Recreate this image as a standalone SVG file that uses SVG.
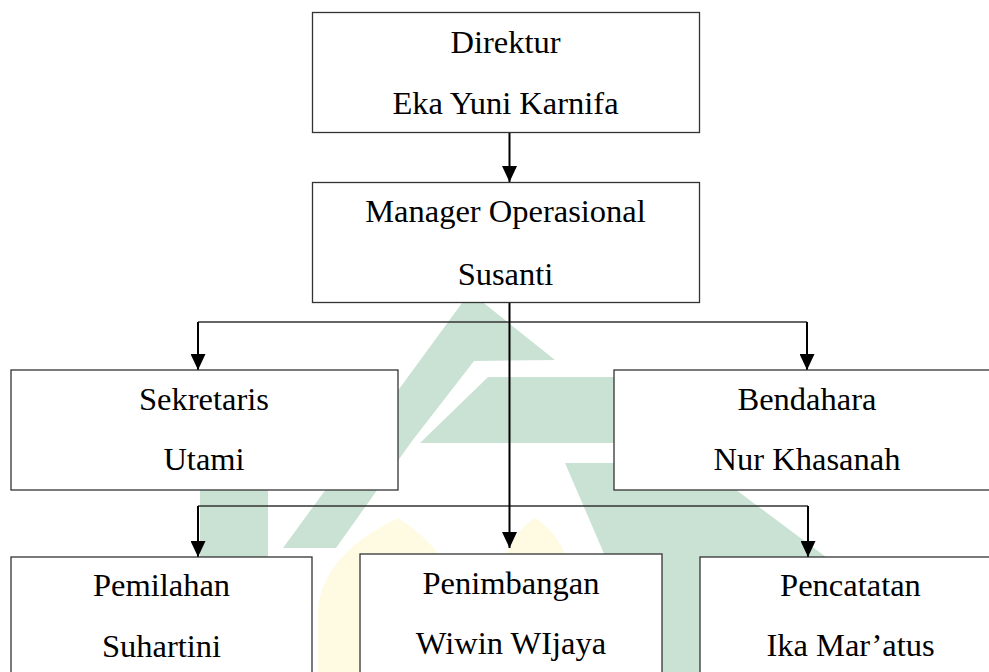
<svg xmlns="http://www.w3.org/2000/svg" width="989" height="672" viewBox="0 0 989 672">
  <defs>
    <style>
      .box { fill: #ffffff; stroke: #333333; stroke-width: 1.3; }
      .lbl { font-family: "Liberation Serif", "Times New Roman", serif; font-size: 32.5px; fill: #000000; text-anchor: middle; }
      .bus { fill: none; stroke: #333333; stroke-width: 1.3; }
      .drop { fill: none; stroke: #000000; stroke-width: 2; }
      .wm-green { fill: #c9e2d3; }
      .wm-gold { fill: #fefbe2; }
    </style>
    <marker id="arrow" viewBox="0 0 16 15" refX="16" refY="7.5" markerWidth="16" markerHeight="15" markerUnits="userSpaceOnUse" orient="auto">
      <path d="M0,0 L16,7.5 L0,15 Z" fill="#000000"/>
    </marker>
  </defs>

  <rect x="0" y="0" width="989" height="672" fill="#ffffff"/>

  <!-- faint background emblem -->
  <g id="emblem">
    <polygon class="wm-green" points="470,292 555,360 474,361 412,441 336,548 283,548"/>
    <polygon class="wm-green" points="488,377 640,377 640,443 420,443"/>
    <polygon class="wm-green" points="200,490 268,490 268,557 200,557"/>
    <polygon class="wm-green" points="565,463 700,463 830,560 900,672 655,672"/>
    <path class="wm-gold" d="M318,672 L318,610 Q322,555 398,518 Q425,535 440,556 L360,556 L360,672 Z"/>
    <path class="wm-gold" d="M505,556 Q515,530 535,518 Q555,530 566,556 Z"/>
  </g>

  <!-- connectors -->
  <g id="connectors">
    <line class="drop" x1="509.5" y1="132" x2="509.5" y2="182" marker-end="url(#arrow)"/>
    <line class="bus" x1="198" y1="322" x2="807" y2="322"/>
    <line class="drop" x1="198" y1="322" x2="198" y2="370" marker-end="url(#arrow)"/>
    <line class="drop" x1="807" y1="322" x2="807" y2="370" marker-end="url(#arrow)"/>
    <line class="bus" x1="198" y1="506" x2="808" y2="506"/>
    <line class="drop" x1="198" y1="506" x2="198" y2="557" marker-end="url(#arrow)"/>
    <line class="drop" x1="808" y1="506" x2="808" y2="557" marker-end="url(#arrow)"/>
    <line class="drop" x1="509.5" y1="303" x2="509.5" y2="548" marker-end="url(#arrow)"/>
  </g>

  <g id="direktur">
    <rect class="box" x="312.5" y="12.5" width="387" height="120"/>
    <text class="lbl" x="505.5" y="53">Direktur</text>
    <text class="lbl" x="505.5" y="113.5">Eka Yuni Karnifa</text>
  </g>

  <g id="manager">
    <rect class="box" x="312.5" y="182.5" width="387" height="120"/>
    <text class="lbl" x="505.5" y="222">Manager Operasional</text>
    <text class="lbl" x="505.5" y="284.5">Susanti</text>
  </g>

  <g id="sekretaris">
    <rect class="box" x="11" y="370" width="387" height="120"/>
    <text class="lbl" x="204" y="409.5">Sekretaris</text>
    <text class="lbl" x="204" y="470">Utami</text>
  </g>

  <g id="bendahara">
    <rect class="box" x="614" y="370" width="387" height="120"/>
    <text class="lbl" x="807" y="409.5">Bendahara</text>
    <text class="lbl" x="807" y="470">Nur Khasanah</text>
  </g>

  <g id="pemilahan">
    <rect class="box" x="11" y="557" width="301" height="130"/>
    <text class="lbl" x="161.5" y="596">Pemilahan</text>
    <text class="lbl" x="161.5" y="656.5">Suhartini</text>
  </g>

  <g id="penimbangan">
    <rect class="box" x="360" y="554" width="302" height="130"/>
    <text class="lbl" x="511" y="593.5">Penimbangan</text>
    <text class="lbl" x="511" y="653.5">Wiwin WIjaya</text>
  </g>

  <g id="pencatatan">
    <rect class="box" x="700" y="557" width="301" height="130"/>
    <text class="lbl" x="850.5" y="596">Pencatatan</text>
    <text class="lbl" x="850.5" y="656">Ika Mar’atus</text>
  </g>
</svg>
